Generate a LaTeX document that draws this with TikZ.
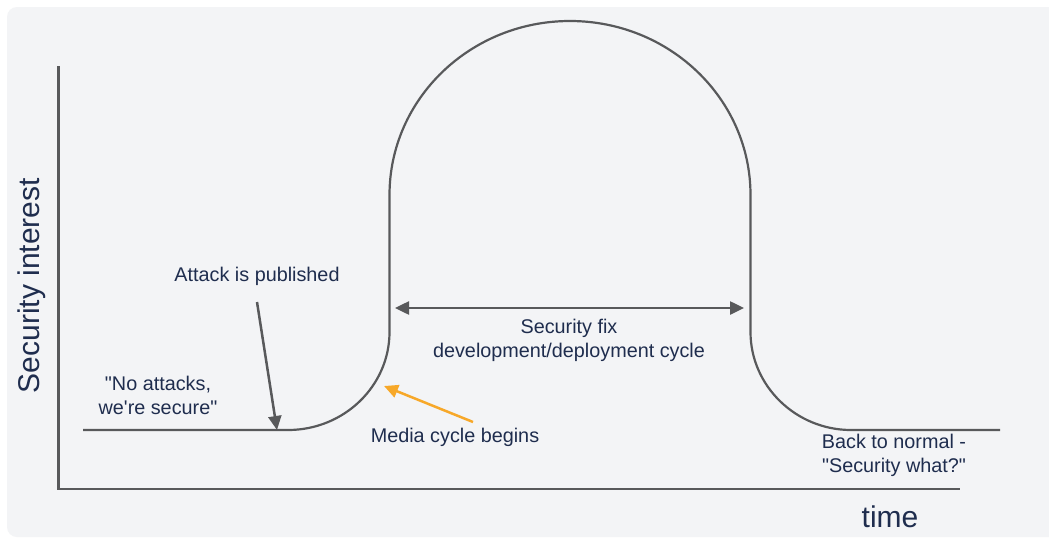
\documentclass[tikz,border=0pt]{standalone}
\usepackage{fontspec}
\setmainfont{Liberation Sans}
\usetikzlibrary{arrows.meta}
\definecolor{bgc}{HTML}{F3F4F6}
\definecolor{linec}{HTML}{58595B}
\definecolor{txtc}{HTML}{1F2D4E}
\definecolor{orng}{HTML}{F7A829}
\newcommand{\dq}{\textquotedbl}
\newcommand{\sq}{\textquotesingle}
\begin{document}
\begin{tikzpicture}[x=1pt,y=-1pt,
  lbl/.style={text=txtc, font=\fontsize{19.8}{24}\selectfont, align=center, inner sep=0pt},
  curvestyle/.style={draw=linec, line width=2.2pt},
  axisstyle/.style={draw=linec, line width=2.5pt},
  arrstyle/.style={draw=linec, line width=2.5pt, -{Triangle[width=13pt,length=14pt]}},
  dblarr/.style={draw=linec, line width=2.5pt, {Triangle[width=13pt,length=14pt]}-{Triangle[width=13pt,length=14pt]}},
  orarr/.style={draw=orng, line width=2.5pt, -{Triangle[width=13pt,length=14pt]}},
]
\useasboundingbox (0,0) rectangle (1049,538);
\clip (0,0) rectangle (1049,538);
\fill[white] (0,0) rectangle (1049,538);
\fill[bgc, rounded corners=10pt] (7,7) rectangle (1070,537);

% axes
\coordinate (ytop) at (58.5,66);
\coordinate (origin) at (58.5,489);
\coordinate (xend) at (960,489);
\draw[axisstyle] (ytop) -- (origin) -- (xend);

% curve
\draw[curvestyle] (83,430) -- (288,430)
  .. controls (344,430) and (389.5,386) .. (389.5,332)
  -- (389.5,195)
  arc[start angle=180, end angle=360, x radius=180.5, y radius=174]
  -- (750.5,332)
  .. controls (750.5,386) and (796,430) .. (851,430)
  -- (1000,430);

% labels
\node[lbl] (attack) at (257,276.5) {Attack is published};
\node[lbl] (noatt) at (158,395.5) {\dq No attacks,\\we\sq re secure\dq};
\node[lbl] (fix) at (569,340) {Security fix\\development/deployment cycle};
\node[lbl] (media) at (455,437.5) {Media cycle begins};
\node[lbl] (back) at (894,455) {Back to normal -\\\dq Security what?\dq};
\node[text=txtc, font=\fontsize{30}{34}\selectfont, inner sep=0pt] (time) at (890,516.5) {time};
\node[text=txtc, font=\fontsize{30}{34}\selectfont, inner sep=0pt, rotate=90] (yl) at (32,285.5) {Security interest};

% arrows
\coordinate (a1) at (257,302);
\coordinate (a2) at (277,430);
\draw[arrstyle] (a1) -- (a2);
\coordinate (f1) at (395,308);
\coordinate (f2) at (744,308);
\draw[dblarr] (f1) -- (f2);
\coordinate (m1) at (473,422);
\coordinate (m2) at (384,386);
\draw[orarr] (m1) -- (m2);
\end{tikzpicture}
\end{document}
